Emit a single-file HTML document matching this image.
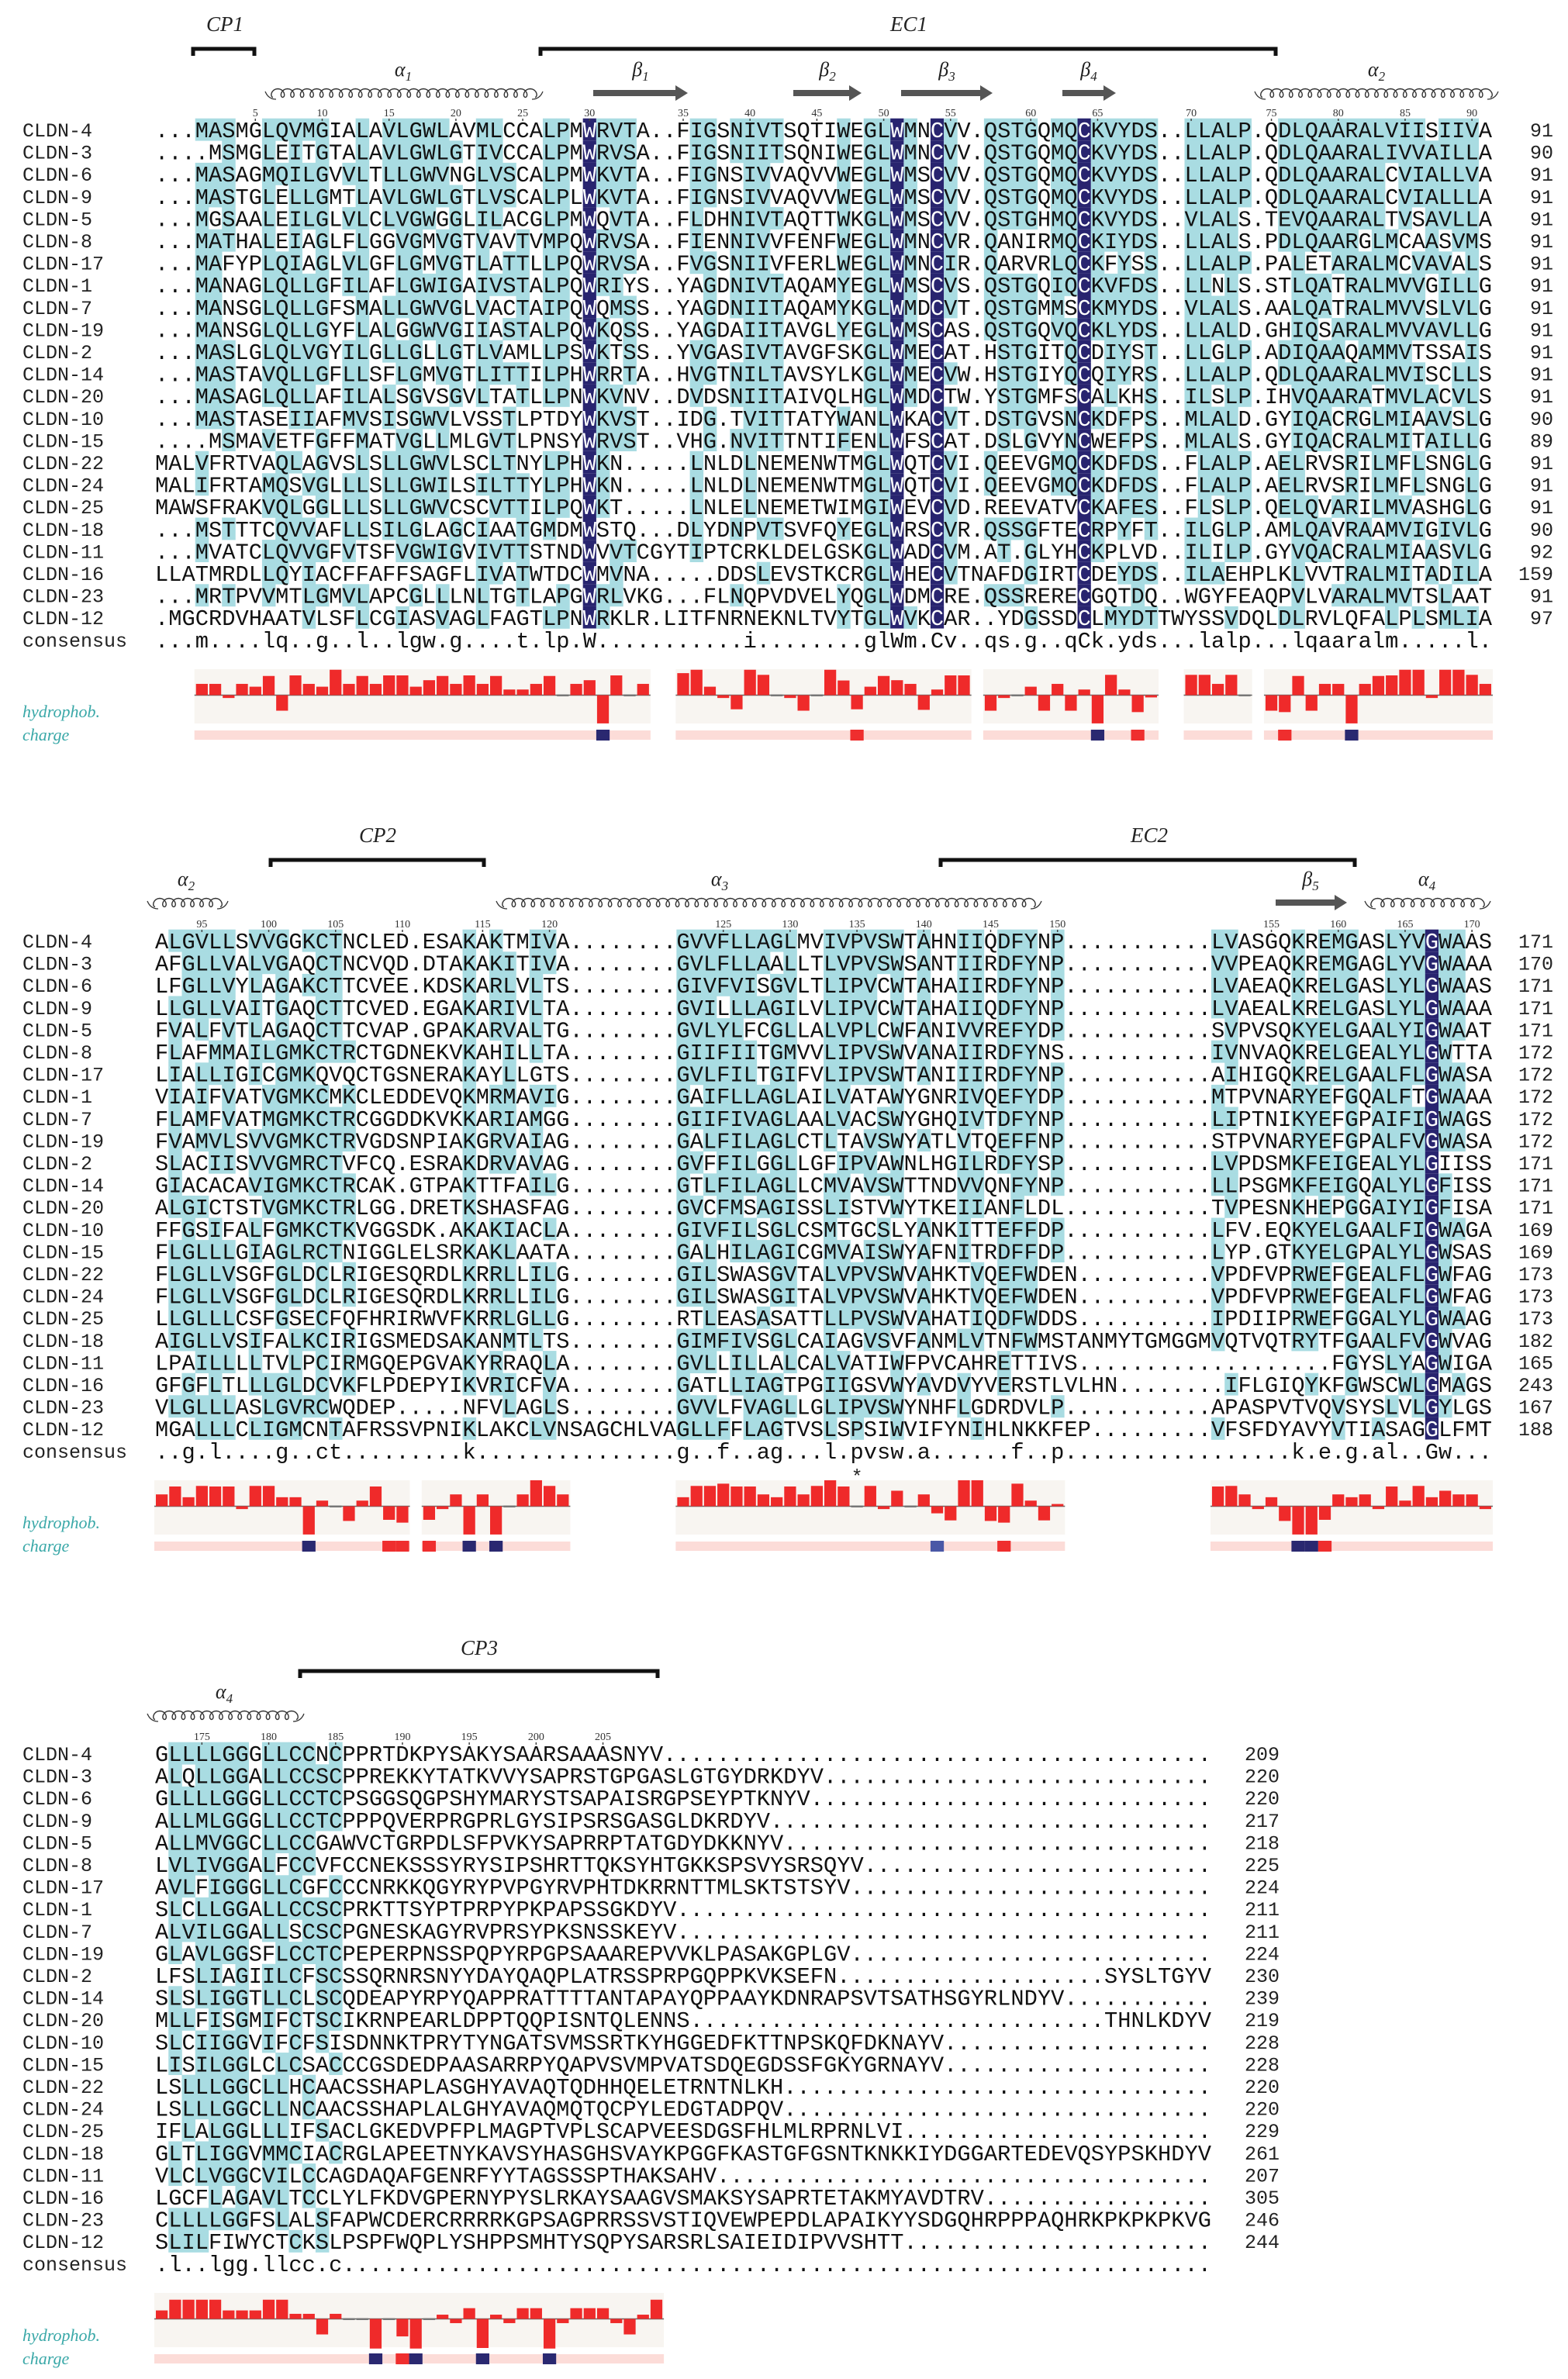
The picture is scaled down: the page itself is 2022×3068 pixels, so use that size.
<!DOCTYPE html>
<html><head><meta charset="utf-8"><title>Claudin alignment</title>
<style>
html,body{margin:0;padding:0;background:#fff;}
svg{display:block;}
.seq{font-family:"Liberation Mono",monospace;font-size:28.7px;}
.lab{font-family:"Liberation Mono",monospace;font-size:25px;fill:#222;}
.tick{font-family:"Liberation Serif",serif;font-size:14px;fill:#333;}
.it{font-family:"Liberation Serif",serif;font-style:italic;fill:#222;}
.hy{font-family:"Liberation Serif",serif;font-style:italic;font-size:22px;fill:#3aa8a8;}
</style></head>
<body>
<svg id="chart" xmlns="http://www.w3.org/2000/svg" width="2022" height="3068" viewBox="0 0 2022 3068"></svg>
<script>
// ---------- data ----------
const names = ['CLDN-4','CLDN-3','CLDN-6','CLDN-9','CLDN-5','CLDN-8','CLDN-17','CLDN-1','CLDN-7','CLDN-19','CLDN-2','CLDN-14','CLDN-20','CLDN-10','CLDN-15','CLDN-22','CLDN-24','CLDN-25','CLDN-18','CLDN-11','CLDN-16','CLDN-23','CLDN-12'];
const b1Seqs = [
"...MASMGLQVMGIALAVLGWLAVMLCCALPM|W|RVTA..FIGSNIVTSQTIWEGL|W|MN|C|VV.QSTGQMQ|C|KVYDS..LLALP.QDLQAARALVIISIIVA",
"....MSMGLEITGTALAVLGWLGTIVCCALPM|W|RVSA..FIGSNIITSQNIWEGL|W|MN|C|VV.QSTGQMQ|C|KVYDS..LLALP.QDLQAARALIVVAILLA",
"...MASAGMQILGVVLTLLGWVNGLVSCALPM|W|KVTA..FIGNSIVVAQVVWEGL|W|MS|C|VV.QSTGQMQ|C|KVYDS..LLALP.QDLQAARALCVIALLVA",
"...MASTGLELLGMTLAVLGWLGTLVSCALPL|W|KVTA..FIGNSIVVAQVVWEGL|W|MS|C|VV.QSTGQMQ|C|KVYDS..LLALP.QDLQAARALCVIALLLA",
"...MGSAALEILGLVLCLVGWGGLILACGLPM|W|QVTA..FLDHNIVTAQTTWKGL|W|MS|C|VV.QSTGHMQ|C|KVYDS..VLALS.TEVQAARALTVSAVLLA",
"...MATHALEIAGLFLGGVGMVGTVAVTVMPQ|W|RVSA..FIENNIVVFENFWEGL|W|MN|C|VR.QANIRMQ|C|KIYDS..LLALS.PDLQAARGLMCAASVMS",
"...MAFYPLQIAGLVLGFLGMVGTLATTLLPQ|W|RVSA..FVGSNIIVFERLWEGL|W|MN|C|IR.QARVRLQ|C|KFYSS..LLALP.PALETARALMCVAVALS",
"...MANAGLQLLGFILAFLGWIGAIVSTALPQ|W|RIYS..YAGDNIVTAQAMYEGL|W|MS|C|VS.QSTGQIQ|C|KVFDS..LLNLS.STLQATRALMVVGILLG",
"...MANSGLQLLGFSMALLGWVGLVACTAIPQ|W|QMSS..YAGDNIITAQAMYKGL|W|MD|C|VT.QSTGMMS|C|KMYDS..VLALS.AALQATRALMVVSLVLG",
"...MANSGLQLLGYFLALGGWVGIIASTALPQ|W|KQSS..YAGDAIITAVGLYEGL|W|MS|C|AS.QSTGQVQ|C|KLYDS..LLALD.GHIQSARALMVVAVLLG",
"...MASLGLQLVGYILGLLGLLGTLVAMLLPS|W|KTSS..YVGASIVTAVGFSKGL|W|ME|C|AT.HSTGITQ|C|DIYST..LLGLP.ADIQAAQAMMVTSSAIS",
"...MASTAVQLLGFLLSFLGMVGTLITTILPH|W|RRTA..HVGTNILTAVSYLKGL|W|ME|C|VW.HSTGIYQ|C|QIYRS..LLALP.QDLQAARALMVISCLLS",
"...MASAGLQLLAFILALSGVSGVLTATLLPN|W|KVNV..DVDSNIITAIVQLHGL|W|MD|C|TW.YSTGMFS|C|ALKHS..ILSLP.IHVQAARATMVLACVLS",
"...MASTASEIIAFMVSISGWVLVSSTLPTDY|W|KVST..IDG.TVITTATYWANL|W|KA|C|VT.DSTGVSN|C|KDFPS..MLALD.GYIQACRGLMIAAVSLG",
"....MSMAVETFGFFMATVGLLMLGVTLPNSY|W|RVST..VHG.NVITTNTIFENL|W|FS|C|AT.DSLGVYN|C|WEFPS..MLALS.GYIQACRALMITAILLG",
"MALVFRTVAQLAGVSLSLLGWVLSCLTNYLPH|W|KN.....LNLDLNEMENWTMGL|W|QT|C|VI.QEEVGMQ|C|KDFDS..FLALP.AELRVSRILMFLSNGLG",
"MALIFRTAMQSVGLLLSLLGWILSILTTYLPH|W|KN.....LNLDLNEMENWTMGL|W|QT|C|VI.QEEVGMQ|C|KDFDS..FLALP.AELRVSRILMFLSNGLG",
"MAWSFRAKVQLGGLLLSLLGWVCSCVTTILPQ|W|KT.....LNLELNEMETWIMGI|W|EV|C|VD.REEVATV|C|KAFES..FLSLP.QELQVARILMVASHGLG",
"...MSTTTCQVVAFLLSILGLAGCIAATGMDM|W|STQ...DLYDNPVTSVFQYEGL|W|RS|C|VR.QSSGFTE|C|RPYFT..ILGLP.AMLQAVRAAMVIGIVLG",
"...MVATCLQVVGFVTSFVGWIGVIVTTSTND|W|VVTCGYTIPTCRKLDELGSKGL|W|AD|C|VM.AT.GLYH|C|KPLVD..ILILP.GYVQACRALMIAASVLG",
"LLATMRDLLQYIACFFAFFSAGFLIVATWTDC|W|MVNA.....DDSLEVSTKCRGL|W|HE|C|VTNAFDGIRT|C|DEYDS..ILAEHPLKLVVTRALMITADILA",
"...MRTPVVMTLGMVLAPCGLLLNLTGTLAPG|W|RLVKG...FLNQPVDVELYQGL|W|DM|C|RE.QSSRERE|C|GQTDQ..WGYFEAQPVLVARALMVTSLAAT",
"MGCRDVHAATVLSFLCGIASVAGLFAGTLPN|W|RKLR.LITFNRNEKNLTVYTGL|W|VK|C|AR..YDGSSD|C|LMYDTTWYSSVDQLDLRVLQFALPLSMLIA"];
const b1Cons = "...m....lq..g..l..lgw.g....t.lp.|W|...........i........gl|W|m.|C|v..qs.g..q|C|k.yds...lalp...lqaaralm.....l.";
const b1Ends = ['91','90','91','91','91','91','91','91','91','91','91','91','91','90','89','91','91','91','90','92','159','91','97'];

const b2Seqs = [
"ALGVLLSVVGGKCTNCLED.ESAKAKTMIVA|GVVFLLAGLMVIVPVSWTAHNIIQDFYNP|LVASGQKREMGASLYVGWAAS",
"AFGLLVALVGAQCTNCVQD.DTAKAKITIVA|GVLFLLAALLTLVPVSWSANTIIRDFYNP|VVPEAQKREMGAGLYVGWAAA",
"LFGLLVYLAGAKCTTCVEE.KDSKARLVLTS|GIVFVISGVLTLIPVCWTAHAIIRDFYNP|LVAEAQKRELGASLYLGWAAS",
"LLGLLVAITGAQCTTCVED.EGAKARIVLTA|GVILLLAGILVLIPVCWTAHAIIQDFYNP|LVAEALKRELGASLYLGWAAA",
"FVALFVTLAGAQCTTCVAP.GPAKARVALTG|GVLYLFCGLLALVPLCWFANIVVREFYDP|SVPVSQKYELGAALYIGWAAT",
"FLAFMMAILGMKCTRCTGDNEKVKAHILLTA|GIIFIITGMVVLIPVSWVANAIIRDFYNS|IVNVAQKRELGEALYLGWTTA",
"LIALLIGICGMKQVQCTGSNERAKAYLLGTS|GVLFILTGIFVLIPVSWTANIIIRDFYNP|AIHIGQKRELGAALFLGWASA",
"VIAIFVATVGMKCMKCLEDDEVQKMRMAVIG|GAIFLLAGLAILVATAWYGNRIVQEFYDP|MTPVNARYEFGQALFTGWAAA",
"FLAMFVATMGMKCTRCGGDDKVKKARIAMGG|GIIFIVAGLAALVACSWYGHQIVTDFYNP|LIPTNIKYEFGPAIFIGWAGS",
"FVAMVLSVVGMKCTRVGDSNPIAKGRVAIAG|GALFILAGLCTLTAVSWYATLVTQEFFNP|STPVNARYEFGPALFVGWASA",
"SLACIISVVGMRCTVFCQ.ESRAKDRVAVAG|GVFFILGGLLGFIPVAWNLHGILRDFYSP|LVPDSMKFEIGEALYLGIISS",
"GIACACAVIGMKCTRCAK.GTPAKTTFAILG|GTLFILAGLLCMVAVSWTTNDVVQNFYNP|LLPSGMKFEIGQALYLGFISS",
"ALGICTSTVGMKCTRLGG.DRETKSHASFAG|GVCFMSAGISSLISTVWYTKEIIANFLDL|TVPESNKHEPGGAIYIGFISA",
"FFGSIFALFGMKCTKVGGSDK.AKAKIACLA|GIVFILSGLCSMTGCSLYANKITTEFFDP|LFV.EQKYELGAALFIGWAGA",
"FLGLLLGIAGLRCTNIGGLELSRKAKLAATA|GALHILAGICGMVAISWYAFNITRDFFDP|LYP.GTKYELGPALYLGWSAS",
"FLGLLVSGFGLDCLRIGESQRDLKRRLLILG|GILSWASGVTALVPVSWVAHKTVQEFWDEN|VPDFVPRWEFGEALFLGWFAG",
"FLGLLVSGFGLDCLRIGESQRDLKRRLLILG|GILSWASGITALVPVSWVAHKTVQEFWDEN|VPDFVPRWEFGEALFLGWFAG",
"LLGLLLCSFGSECFQFHRIRWVFKRRLGLLG|RTLEASASATTLLPVSWVAHATIQDFWDDS|IPDIIPRWEFGGALYLGWAAG",
"AIGLLVSIFALKCIRIGSMEDSAKANMTLTS|GIMFIVSGLCAIAGVSVFANMLVTNFWMSTANMYTGMGGMVQTVQTRYTFGAALFVGWVAG|",
"LPAILLLLTVLPCIRMGQEPGVAKYRRAQLA|GVLLILLALCALVATIWFPVCAHRETTIVS|FGYSLYAGWIGA",
"GFGFLTLLLGLDCVKFLPDEPYIKVRICFVA|GATLLIAGTPGIIGSVWYAVDVYVERSTLVLHN|IFLGIQYKFGWSCWLGMAGS",
"VLGLLLASLGVRCWQDEP.....NFVLAGLS|GVVLFVAGLLGLIPVSWYNHFLGDRDVLP|APASPVTVQVSYSLVLGYLGS",
"MGALLLCLIGMCNTAFRSSVPNIKLAKCLVNSAGCHLVA|GLLFFLAGTVSLSPSIWVIFYNIHLNKKFEP|VFSFDYAVYVTIASAGGLFMT"];
const b2Cons = "..g.l....g..ct.........k|g..f..ag...l.pvsw.a......f..p|k.e.g.al..Gw...";
const b2Ends = ['171','170','171','171','171','172','172','172','172','172','171','171','171','169','169','173','173','173','182','165','243','167','188'];

const b3Seqs = [
"GLLLLGGGLLCCNCPPRTDKPYSAKYSAARSAAASNYV",
"ALQLLGGALLCCSCPPREKKYTATKVVYSAPRSTGPGASLGTGYDRKDYV",
"GLLLLGGGLLCCTCPSGGSQGPSHYMARYSTSAPAISRGPSEYPTKNYV",
"ALLMLGGGLLCCTCPPPQVERPRGPRLGYSIPSRSGASGLDKRDYV",
"ALLMVGGCLLCCGAWVCTGRPDLSFPVKYSAPRRPTATGDYDKKNYV",
"LVLIVGGALFCCVFCCNEKSSSYRYSIPSHRTTQKSYHTGKKSPSVYSRSQYV",
"AVLFIGGGLLCGFCCCNRKKQGYRYPVPGYRVPHTDKRRNTTMLSKTSTSYV",
"SLCLLGGALLCCSCPRKTTSYPTPRPYPKPAPSSGKDYV",
"ALVILGGALLSCSCPGNESKAGYRVPRSYPKSNSSKEYV",
"GLAVLGGSFLCCTCPEPERPNSSPQPYRPGPSAAAREPVVKLPASAKGPLGV",
"LFSLIAGIILCFSCSSQRNRSNYYDAYQAQPLATRSSPRPGQPPKVKSEFN|SYSLTGYV",
"SLSLIGGTLLCLSCQDEAPYRPYQAPPRATTTTANTAPAYQPPAAYKDNRAPSVTSATHSGYRLNDYV",
"MLLFISGMIFCTSCIKRNPEARLDPPTQQPISNTQLENNS|THNLKDYV",
"SLCIIGGVIFCFSISDNNKTPRYTYNGATSVMSSRTKYHGGEDFKTTNPSKQFDKNAYV",
"LISILGGLCLCSACCCGSDEDPAASARRPYQAPVSVMPVATSDQEGDSSFGKYGRNAYV",
"LSLLLGGCLLHCAACSSHAPLASGHYAVAQTQDHHQELETRNTNLKH",
"LSLLLGGCLLNCAACSSHAPLALGHYAVAQMQTQCPYLEDGTADPQV",
"IFLALGGLLLIFSACLGKEDVPFPLMAGPTVPLSCAPVEESDGSFHLMLRPRNLVI",
"GLTLIGGVMMCIACRGLAPEETNYKAVSYHASGHSVAYKPGGFKASTGFGSNTKNKKIYDGGARTEDEVQSYPSKHDYV",
"VLCLVGGCVILCCAGDAQAFGENRFYYTAGSSSPTHAKSAHV",
"LGCFLAGAVLTCCLYLFKDVGPERNYPYSLRKAYSAAGVSMAKSYSAPRTETAKMYAVDTRV",
"CLLLLGGFSLALSFAPWCDERCRRRRKGPSAGPRRSSVSTIQVEWPEPDLAPAIKYYSDGQHRPPPAQHRKPKPKPKVG",
"SLILFIWYCTCKSLPSPFWQPLYSHPPSMHTYSQPYSARSRLSAIEIDIPVVSHTT"];
const b3Cons = ".l..lgg.llcc.c";
const b3Ends = ['209','220','220','217','218','225','224','211','211','224','230','239','219','228','228','220','220','229','261','207','305','246','244'];

// hydrophobicity (relative units, +92 = panel top) per panel, and panel start columns
const b1HydroStart = [3, 39, 62, 77, 83];
const b1Hydro = [
 [40,40,-10,40,30,68,-55,70,40,30,90,40,68,40,70,70,30,53,68,40,70,40,68,20,20,40,68,0,40,53,-100,70,-3,40],
 [78,90,30,-10,-50,90,72,0,-10,-55,0,90,52,-50,30,68,53,40,-52,20,70,70],
 [-55,-10,0,30,-55,40,-55,20,-100,72,20,-60,-8],
 [72,72,40,72,-3],
 [-55,-60,68,-55,40,40,-100,40,68,70,90,90,-10,90,90,72,40]];
const b2HydroStart = [0, 20, 39, 79];
const b2Hydro = [
 [42,70,32,72,70,70,-10,72,72,32,32,-100,20,-3,-52,20,70,-48,-58],
 [-48,-10,42,-100,42,-100,-2,42,92,72,42],
 [32,72,72,80,70,70,42,32,70,42,72,92,70,5,72,-10,55,0,42,-25,-50,92,92,-52,-58,80,20,-50,8],
 [70,72,42,-10,32,-52,-100,-100,-48,42,32,42,-10,70,20,72,32,55,42,42,-10]];
const b3HydroStart = [0];
const b3Hydro = [
 [30,68,68,68,68,30,30,30,68,68,18,18,-55,18,5,5,-105,0,-62,-105,5,15,-15,38,-103,15,-15,38,38,-105,-15,38,38,38,-15,-55,15,68]];
// charge marks: column index and sign (1 = positive/blue, -1 = negative/red, 0.5 = weak positive)
const b1ChargeCols = [33,52,70,73,84,89];
const b1ChargeSign = [1,-1,1,-1,-1,1];
const b2ChargeCols = [11,17,18,20,23,25,58,63,85,86,87];
const b2ChargeSign = [1,-1,-1,-1,1,1,0.5,-1,1,1,-1];
const b3ChargeCols = [16,18,19,24,29];
const b3ChargeSign = [1,-1,1,1,1];

// ---------- layout ----------
const NS='http://www.w3.org/2000/svg';
const svg=document.getElementById('chart');
const CW=17.24, X0=200, RH=28.6, ROW0=167;
const OFFS=[0,1046,2094];
function mk(tag,attrs,parent){const e=document.createElementNS(NS,tag);for(const k in attrs)e.setAttribute(k,attrs[k]);(parent||svg).appendChild(e);return e;}
function cx(c){return X0+(c+0.5)*CW;}

function fmt1(s){const w=[32,1,22,1,2,1,10,1,30];const p=s.split('|');let o='';for(let i=0;i<w.length;i++){let t=p[i]||'';t=(i===0?t.padStart(w[i],'.'):t.padEnd(w[i],'.')).slice(0,w[i]);o+=t;}return o;}
function fmt2(s){const p=s.split('|');const l=p[0].padEnd(39,'.').slice(0,39);const m=p[1]||'',t=p[2]||'';const f=Math.max(0,61-m.length-t.length);return l+(m+'.'.repeat(f)+t).slice(0,61);}
function fmt3(s){const L=79;if(s.indexOf('|')>=0){const p=s.split('|');const f=Math.max(0,L-p[0].length-p[1].length);return (p[0]+'.'.repeat(f)+p[1]).slice(0,L);}return s.padEnd(L,'.').slice(0,L);}

const grp={I:'h',L:'h',V:'h',M:'h',F:'a',Y:'a',W:'a',K:'b',R:'b',D:'c',E:'c',S:'s',T:'s',N:'n',Q:'n'};
function g(ch){return grp[ch]||ch;}

function shading(rows){
  const n=Math.max(...rows.map(r=>r.length));const res=[];
  for(let c=0;c<n;c++){
    const cnt={};let ident=true;const first=rows[0][c];
    rows.forEach(r=>{const ch=r[c];if(ch!==first)ident=false;if(!ch||ch==='.')return;const k=g(ch);cnt[k]=(cnt[k]||0)+1;});
    if(ident&&first&&first!=='.'){res.push({type:'navy'});continue;}
    let best=null,bc=0;for(const k in cnt){if(cnt[k]>bc){bc=cnt[k];best=k;}}
    if(bc>=12)res.push({type:'cyan',grp:best});else res.push({type:'none'});
  }
  return res;
}

function drawBlock(bi,rows,cons,ends,startNum,endX,tickMax){
  const off=OFFS[bi];
  const G=mk('g',{});
  
  
  const sh=shading(rows);
  rows.forEach((r,i)=>{
    const y=off+ROW0+i*RH;
    for(let c=0;c<r.length;c++){
      const s=sh[c];const ch=r[c];if(!s||ch==='.')continue;
      if(s.type==='navy'){const rc=mk('rect',{x:X0+c*CW,y:y-RH/2,width:CW,height:RH,fill:'#28246f'},G);
        
        }
      else if(s.type==='cyan'&&g(ch)===s.grp){const rc=mk('rect',{x:X0+c*CW,y:y-RH/2,width:CW+0.3,height:RH+0.3,fill:'#a9dce2'},G);
        
        }
    }
  });
  const all=rows.concat([cons]);
  all.forEach((r,i)=>{
    const y=off+ROW0+i*RH;
    const nm=mk('text',{x:29,y:y+9,class:'lab'},G);nm.textContent=i<names.length?names[i]:'consensus';
    
    
    const xs=[];for(let c=0;c<r.length;c++)xs.push((X0+c*CW+CW/2).toFixed(2));
    const t=mk('text',{x:xs.join(' '),y:y+10,class:'seq','text-anchor':'middle',fill:'#111'},G);
    
    
    let c=0;
    while(c<r.length){
      const navy=i<names.length&&sh[c]&&sh[c].type==='navy';let j=c;
      while(j<r.length&&((i<names.length&&sh[j]&&sh[j].type==='navy')===navy))j++;
      const ts=mk('tspan',navy?{fill:'#ffffff'}:{},t);ts.textContent=r.slice(c,j);c=j;
    }
    if(i<ends.length){const e=mk('text',{x:endX,y:y+9,class:'lab','text-anchor':'end'},G);e.textContent=ends[i];
      
      }
  });
  let n=startNum-1;const r0=rows[0];
  for(let c=0;c<r0.length;c++){
    if(r0[c]==='.')continue;n++;
    if(n%5===0&&n<=tickMax){
      const tk=mk('text',{x:cx(c),y:off+150,class:'tick','text-anchor':'middle'},G);tk.textContent=n;
      
      
      mk('line',{x1:cx(c),x2:cx(c),y1:off+153,y2:off+156,stroke:'#444','stroke-width':1.5},G);
    }
  }
}

function drawHydro(bi,starts,vals,chCols,chSign){
  const off=OFFS[bi];
  const G=mk('g',{});
  
  
  const top=off+863,H=70,base=top+33.5,k=33.5/92;
  const cy=off+942;
  starts.forEach((s,p)=>{
    const v=vals[p];
    const bg=mk('rect',{x:X0+s*CW-1,y:top,width:v.length*CW+2,height:H,fill:'#f8f5f1'},G);
    
    
    const cs=mk('rect',{x:X0+s*CW-1,y:cy,width:v.length*CW+2,height:12,fill:'#fcdcd8'},G);
    
    
    mk('line',{x1:X0+s*CW-1,x2:X0+(s+v.length)*CW+1,y1:base,y2:base,stroke:'#666','stroke-width':1.5},G);
    v.forEach((val,i)=>{
      const x=X0+(s+i)*CW+1;const h=Math.abs(val)*k;
      if(Math.abs(val)<6){const b=mk('rect',{x:x,y:base-1,width:CW-2,height:Math.max(2.5,h),fill:'#777'},G);
        
        return;}
      const b=mk('rect',{x:x,y:val>0?base-h:base,width:CW-2,height:h,fill:'#ef2a2a'},G);
      
      
    });
  });
  chCols.forEach((c,i)=>{
    const col=chSign[i]<0?'#ef2e2e':(chSign[i]<1?'#4a58a6':'#2a2870');
    const m=mk('rect',{x:X0+c*CW,y:cy-1,width:CW,height:14,fill:col},G);
    
    
  });
  const l1=mk('text',{x:29,y:off+925,class:'hy'});l1.textContent='hydrophob.';
  
  
  const l2=mk('text',{x:29,y:off+955,class:'hy'});l2.textContent='charge';
  
  
}

function bracket(x1,x2,y,label,lx,ly){
  const G=mk('g',{});
  
  
  mk('path',{d:`M${x1},${y+9} L${x1},${y} L${x2},${y} L${x2},${y+9}`,fill:'none',stroke:'#111','stroke-width':5},G);
  const t=mk('text',{x:lx,y:ly,class:'it','font-size':27,'text-anchor':'middle'},G);t.textContent=label;
  
  
}
function greek(sym,sub,x,y){
  const t=mk('text',{x:x,y:y,class:'it','font-size':26,'text-anchor':'middle'});
  
  
  const a=mk('tspan',{},t);a.textContent=sym;
  const b=mk('tspan',{dy:6,'font-size':17},t);b.textContent=sub;
}
function helix(x1,x2,y){
  const n=Math.round((x2-x1)/12.5);const s=(x2-x1)/n;const r=5.5;
  let d='';const steps=n*16;
  for(let i=0;i<=steps;i++){const t=i/16*2*Math.PI;const x=x1+s*t/(2*Math.PI)-r*Math.sin(t)*0.9;const yy=y+r*Math.cos(t);d+=(i?'L':'M')+x.toFixed(1)+','+yy.toFixed(1);}
  const p=mk('path',{d:d,fill:'none',stroke:'#333','stroke-width':1.4});
  
  
  const e=mk('path',{d:`M${x1-10},${y-2} Q${x1-6},${y+8} ${x1+4},${y+8} M${x2+10},${y-2} Q${x2+6},${y+8} ${x2-4},${y+8}`,fill:'none',stroke:'#333','stroke-width':1.3});
  
  
}
function arrow(x1,x2,y){
  const p=mk('path',{d:`M${x1},${y-4} L${x2-16},${y-4} L${x2-16},${y-10} L${x2},${y} L${x2-16},${y+10} L${x2-16},${y+4} L${x1},${y+4} Z`,fill:'#555'});
  
  
}

// ---------- render ----------
const r1=b1Seqs.map(fmt1), r2=b2Seqs.map(fmt2), r3=b3Seqs.map(fmt3);
drawBlock(0,r1,fmt1(b1Cons),b1Ends,1,2003,999);
drawBlock(1,r2,fmt2(b2Cons),b2Ends,92,2003,999);
drawBlock(2,r3,b3Cons.padEnd(79,'.'),b3Ends,172,1650,205);
drawHydro(0,b1HydroStart,b1Hydro,b1ChargeCols,b1ChargeSign);
drawHydro(1,b2HydroStart,b2Hydro,b2ChargeCols,b2ChargeSign);
drawHydro(2,b3HydroStart,b3Hydro,b3ChargeCols,b3ChargeSign);

bracket(249,328,63,'CP1',290,40);
bracket(697,1645,63,'EC1',1172,40);
greek('α','1',520,98); helix(352,690,120);
greek('β','1',826,98); arrow(765,887,120);
greek('β','2',1067,98); arrow(1023,1111,120);
greek('β','3',1221,98); arrow(1162,1280,120);
greek('β','4',1404,98); arrow(1370,1439,120);
greek('α','2',1775,98); helix(1628,1922,120);
bracket(349,624,1109,'CP2',487,1086);
bracket(1213,1747,1109,'EC2',1482,1086);
greek('α','2',240,1142); helix(200,284,1164);
greek('α','3',928,1142); helix(650,1333,1164);
greek('β','5',1690,1142); arrow(1645,1737,1164);
greek('α','4',1840,1142); helix(1770,1912,1164);
const ast=mk('text',{x:cx(52),y:1912,class:'lab','text-anchor':'middle'});ast.textContent='*';


bracket(387,848,2155,'CP3',618,2134);
greek('α','4',289,2190); helix(200,382,2212);
</script>
</body></html>
